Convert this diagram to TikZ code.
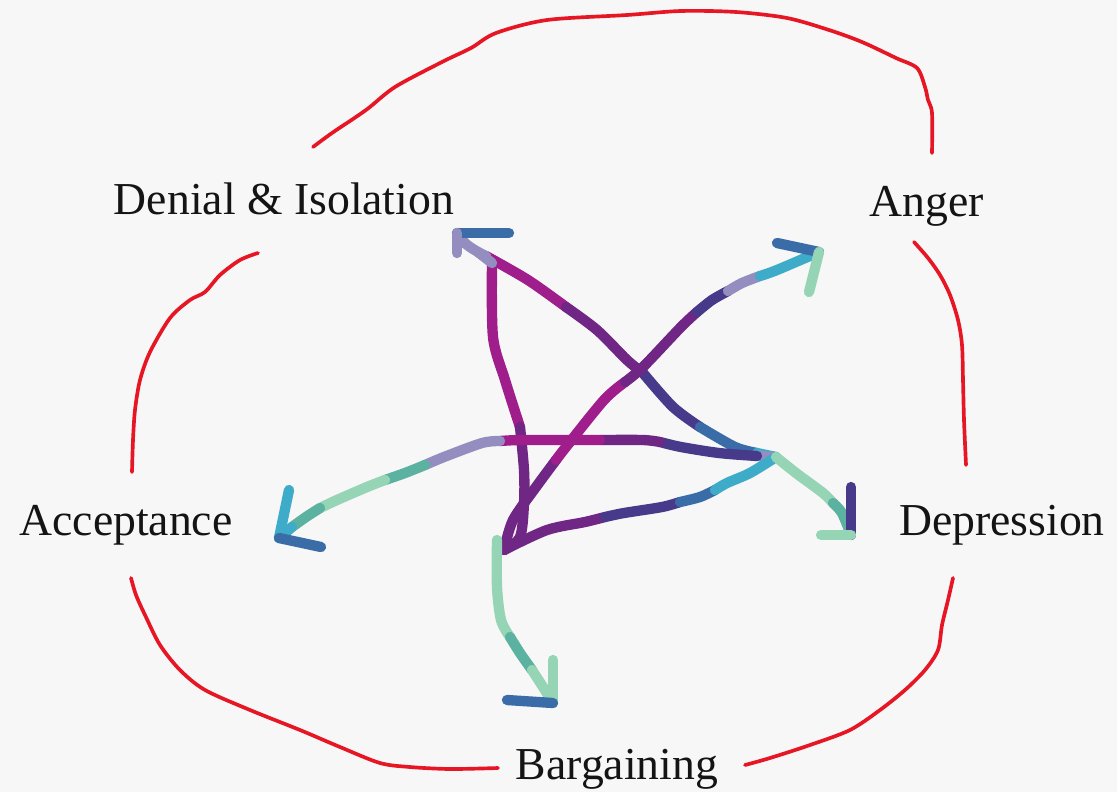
\documentclass[tikz,border=0pt]{standalone}
\usepackage{fontspec}
\setmainfont{Liberation Serif}
\definecolor{paper}{RGB}{247,247,247}
\definecolor{inkred}{RGB}{230,22,36}
\definecolor{gmag}{RGB}{160,30,140}
\definecolor{gpurp}{RGB}{112,38,132}
\definecolor{gind}{RGB}{72,58,138}
\definecolor{gblue}{RGB}{58,108,168}
\definecolor{gteal}{RGB}{62,172,200}
\definecolor{gmint}{RGB}{150,212,182}
\definecolor{gsea}{RGB}{92,178,160}
\definecolor{glav}{RGB}{148,142,192}
\tikzset{
  stage/.style={font=\fontsize{39}{45}\selectfont,inner sep=0pt,anchor=base,text=black!92},
  sketch/.style={draw=inkred,line width=1.1mm,line cap=round,line join=round},
  glit/.style={line width=3.1mm,line cap=round,line join=round}
}
\begin{document}
\begin{tikzpicture}[x=0.3mm,y=-0.3mm]
\fill[paper] (0,0) rectangle (1117,792);
\useasboundingbox (0,0) rectangle (1117,792);
\node[stage] (denial) at (284,214) {Denial \& Isolation};
\node[stage] (anger) at (927,216) {Anger};
\node[stage] (accept) at (126,535) {Acceptance};
\node[stage] (depress) at (1002,535) {Depression};
\node[stage] (bargain) at (617,779) {Bargaining};
\coordinate (r1) at (313,147); \coordinate (r2) at (932,153);
\coordinate (r3) at (914,242); \coordinate (r4) at (966,465);
\coordinate (r5) at (953,578); \coordinate (r6) at (745,765);
\coordinate (r7) at (498,768); \coordinate (r8) at (131,578);
\coordinate (r9) at (132,472); \coordinate (r10) at (258,253);
\draw[sketch] plot[smooth] coordinates {(r1) (332,133) (366,110) (395,87) (442,62) (471,48) (496,33) (547,20) (627,15) (681,11) (736,12) (787,18) (829,30) (862,42) (896,58) (917,68) (925,87) (928,100) (932,113) (r2)};
\draw[sketch] plot[smooth] coordinates {(r3) (928,258) (940,275) (950,295) (958,320) (962,345) (963,380) (964,420) (r4)};
\draw[sketch] plot[smooth] coordinates {(r5) (948,600) (942,625) (938,650) (925,670) (905,690) (880,710) (850,730) (810,745) (770,758) (r6)};
\draw[sketch] plot[smooth] coordinates {(r7) (450,769) (410,767) (380,763) (340,747) (300,730) (250,710) (205,690) (180,670) (160,645) (145,615) (136,595) (r8)};
\draw[sketch] plot[smooth] coordinates {(r9) (133,440) (135,410) (140,380) (150,352) (170,318) (190,300) (205,292) (220,275) (240,260) (r10)};
\coordinate (vTL) at (486,256); \coordinate (vR) at (776,457); \coordinate (vB) at (504,550);
\coordinate (tDen) at (457,233); \coordinate (tAng) at (819,252);
\coordinate (tAcc) at (279,538); \coordinate (tDep) at (851,535); \coordinate (tBar) at (553,703);
\draw[glit,gmag] plot[smooth] coordinates {(492,263) (493,337) (505,380) (520,427)};
\draw[glit,gpurp] plot[smooth] coordinates {(520,427) (524,470) (524,503) (520,537) (vB)};
\draw[glit,gmag] plot[smooth] coordinates {(vTL) (528,280) (566,307)};
\draw[glit,gpurp] plot[smooth] coordinates {(566,307) (597,330) (627,360) (643,373)};
\draw[glit,gind] plot[smooth] coordinates {(643,373) (673,407) (700,427)};
\draw[glit,gblue] plot[smooth] coordinates {(700,427) (735,447) (757,453)};
\draw[glit,gteal] plot[smooth] coordinates {(757,453) (vR)};
\draw[glit,gpurp] plot[smooth] coordinates {(vB) (513,520) (536,487) (556,460)};
\draw[glit,gmag] plot[smooth] coordinates {(556,460) (566,447) (604,400) (625,382)};
\draw[glit,gpurp] plot[smooth] coordinates {(625,382) (643,367) (681,327) (697,312)};
\draw[glit,gind] plot[smooth] coordinates {(697,312) (712,300) (728,291)};
\draw[glit,glav] plot[smooth] coordinates {(728,291) (742,283) (760,276)};
\draw[glit,gteal] plot[smooth] coordinates {(760,276) (777,270) (tAng)};
\draw[glit,gblue] (tAng) -- (777,243);
\draw[glit,gmint] (tAng) -- (809,292);
\draw[glit,glav] (vR) -- (757,456);
\draw[glit,gind] plot[smooth] coordinates {(757,456) (719,453) (681,447) (660,442)};
\draw[glit,gpurp] plot[smooth] coordinates {(660,442) (643,440) (600,440)};
\draw[glit,gmag] plot[smooth] coordinates {(600,440) (566,440) (520,440) (500,441)};
\draw[glit,glav] plot[smooth] coordinates {(500,441) (482,443) (444,457) (425,465)};
\draw[glit,gsea] plot[smooth] coordinates {(425,465) (405,473) (385,480)};
\draw[glit,gmint] plot[smooth] coordinates {(385,480) (367,487) (337,500) (320,508)};
\draw[glit,gsea] plot[smooth] coordinates {(320,508) (306,517) (292,527)};
\draw[glit,gteal] plot[smooth] coordinates {(292,527) (tAcc)};
\draw[glit,gteal] (tAcc) -- (289,490);
\draw[glit,gblue] (tAcc) -- (321,547);
\draw[glit,gpurp] plot[smooth] coordinates {(vB) (547,530) (585,522) (605,517)};
\draw[glit,gind] plot[smooth] coordinates {(605,517) (624,513) (662,507) (680,502)};
\draw[glit,gblue] plot[smooth] coordinates {(680,502) (700,497) (715,490)};
\draw[glit,gteal] plot[smooth] coordinates {(715,490) (727,483) (750,473) (vR)};
\draw[glit,gmint] plot[smooth] coordinates {(vR) (796,473) (823,493) (833,503)};
\draw[glit,gsea] plot[smooth] coordinates {(833,503) (842,513) (tDep)};
\draw[glit,gind] (tDep) -- (851,487);
\draw[glit,gmint] (tDep) -- (821,535);
\draw[glit,gmint] plot[smooth] coordinates {(497,540) (497,587) (501,620) (510,637)};
\draw[glit,gsea] plot[smooth] coordinates {(510,637) (520,653) (532,670)};
\draw[glit,gmint] plot[smooth] coordinates {(532,670) (543,687) (tBar)};
\draw[glit,gmint] (tBar) -- (553,660);
\draw[glit,gblue] (tBar) -- (507,700);
\draw[glit,glav] plot[smooth] coordinates {(vTL) (478,252) (466,244) (tDen)};
\draw[glit,glav] (478,252) -- (492,263);
\draw[glit,gblue] (tDen) -- (509,233);
\draw[glit,glav] (tDen) -- (457,253);
\end{tikzpicture}
\end{document}
